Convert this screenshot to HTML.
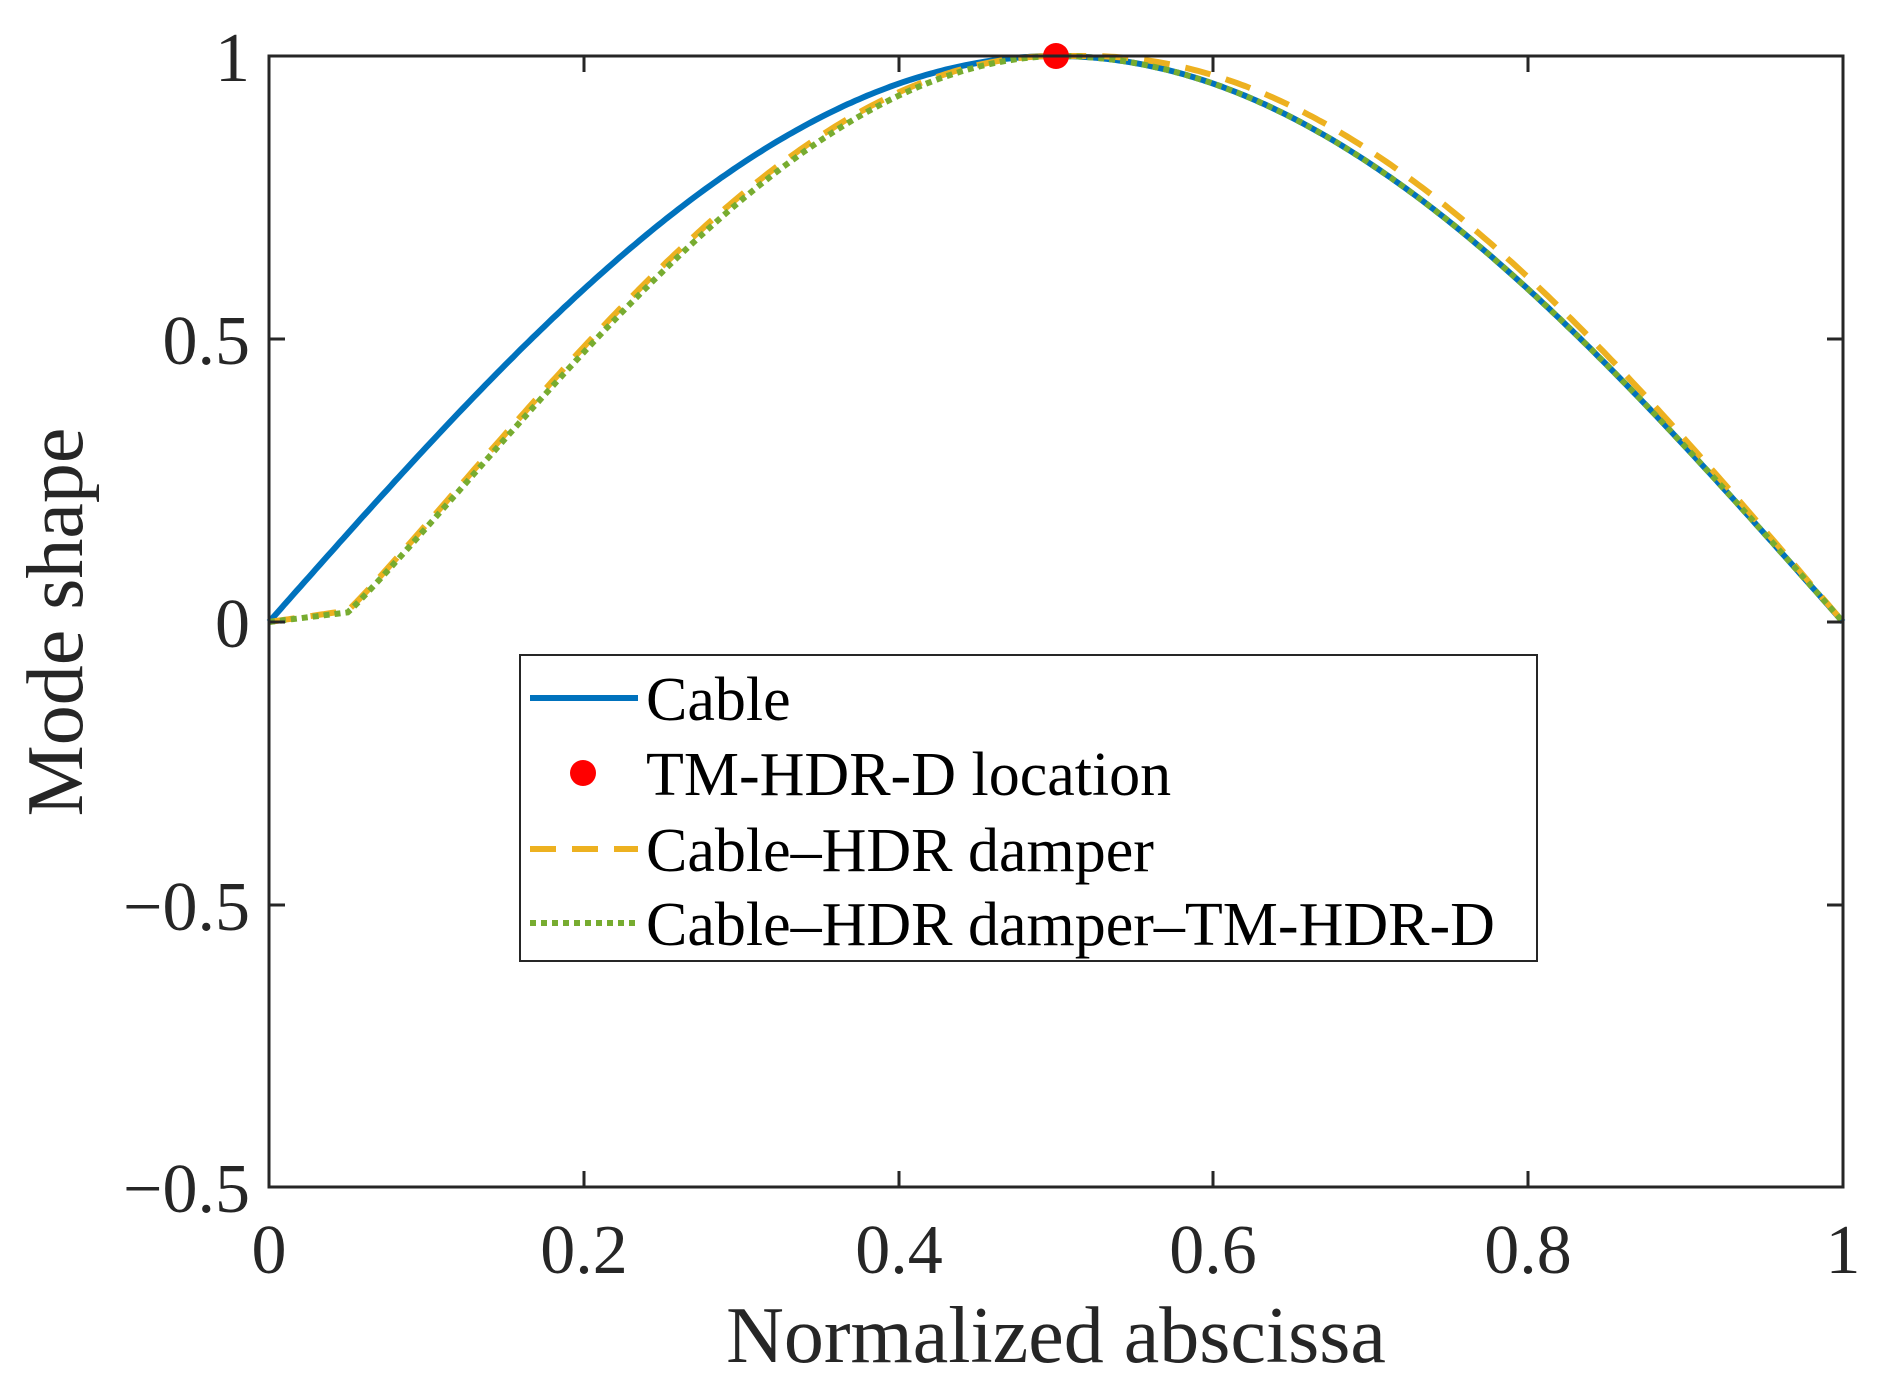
<!DOCTYPE html>
<html><head><meta charset="utf-8"><style>
html,body{margin:0;padding:0;background:#fff;}
svg{display:block;}
text{font-family:"Liberation Serif",serif;fill:#262626;}
</style></head><body>
<svg id="s" width="1881" height="1394" viewBox="0 0 1881 1394" xmlns="http://www.w3.org/2000/svg">
<rect width="1881" height="1394" fill="#fff"/>
<g id="curves"></g>
<circle cx="1056" cy="56" r="13" fill="#ff0000"/>
<rect x="269" y="56" width="1574" height="1131" fill="none" stroke="#262626" stroke-width="3"/>
<g stroke="#262626" stroke-width="3">
<line x1="269" y1="339" x2="285" y2="339"/><line x1="1843" y1="339" x2="1827" y2="339"/>
<line x1="269" y1="622" x2="285" y2="622"/><line x1="1843" y1="622" x2="1827" y2="622"/>
<line x1="269" y1="905" x2="285" y2="905"/><line x1="1843" y1="905" x2="1827" y2="905"/>
<line x1="584" y1="1187" x2="584" y2="1171"/><line x1="584" y1="56" x2="584" y2="72"/>
<line x1="899" y1="1187" x2="899" y2="1171"/><line x1="899" y1="56" x2="899" y2="72"/>
<line x1="1213" y1="1187" x2="1213" y2="1171"/><line x1="1213" y1="56" x2="1213" y2="72"/>
<line x1="1528" y1="1187" x2="1528" y2="1171"/><line x1="1528" y1="56" x2="1528" y2="72"/>
</g>
<g font-size="70" text-anchor="end">
<text x="250" y="81">1</text>
<text x="250" y="364">0.5</text>
<text x="250" y="647">0</text>
<text x="250" y="930">−0.5</text>
<text x="250" y="1212">−0.5</text>
</g>
<g font-size="70" text-anchor="middle">
<text x="269" y="1273">0</text>
<text x="584" y="1273">0.2</text>
<text x="899" y="1273">0.4</text>
<text x="1213" y="1273">0.6</text>
<text x="1528" y="1273">0.8</text>
<text x="1843" y="1273">1</text>
</g>
<text x="1056" y="1362" font-size="80" text-anchor="middle">Normalized abscissa</text>
<text transform="translate(82,622) rotate(-90)" font-size="80" text-anchor="middle">Mode shape</text>
<rect x="520" y="655" width="1017" height="306" fill="#fff" stroke="#262626" stroke-width="2"/>
<line x1="530" y1="698" x2="638" y2="698" stroke="#0072BD" stroke-width="6"/>
<circle cx="583" cy="773" r="13" fill="#ff0000"/>
<line x1="530" y1="849" x2="638" y2="849" stroke="#EDB120" stroke-width="6" stroke-dasharray="26,16"/>
<line x1="530" y1="923" x2="638" y2="923" stroke="#77AC30" stroke-width="6" stroke-dasharray="6,5"/>
<g font-size="62" fill="#000">
<text x="646" y="720" style="fill:#000">Cable</text>
<text x="646" y="795" style="fill:#000">TM-HDR-D location</text>
<text x="646" y="871" style="fill:#000">Cable–HDR damper</text>
<text x="646" y="945" style="fill:#000">Cable–HDR damper–TM-HDR-D</text>
</g>
</svg>
<script>
(function(){
var X=function(x){return 269+1574*x;},Y=function(y){return 622-566*y;};
function path(f){var d='';for(var i=0;i<=400;i++){var x=i/400;d+=(i?'L':'M')+X(x).toFixed(1)+','+Y(f(x)).toFixed(1);}return d;}
function left(x){if(x<=0.05)return 0.02*x/0.05;var t=(x-0.05)/0.45;return 0.02+0.98*Math.sin(Math.PI/2*Math.pow(t,1.05));}
var blue=function(x){return Math.sin(Math.PI*x);};
var orange=function(x){if(x<=0.5)return left(x);if(x<=0.52)return 1;return Math.sin(Math.PI/2*(1-x)/0.48);};
var green=function(x){return x<=0.5?left(x)-0.01*Math.sin(Math.PI*x/0.5):Math.sin(Math.PI*x);};
var g=document.getElementById('curves');var ns='http://www.w3.org/2000/svg';
function add(d,c,da){var p=document.createElementNS(ns,'path');p.setAttribute('d',d);p.setAttribute('fill','none');p.setAttribute('stroke',c);p.setAttribute('stroke-width','6');if(da)p.setAttribute('stroke-dasharray',da);g.appendChild(p);}
add(path(blue),'#0072BD');
add(path(orange),'#EDB120','26,16');
add(path(green),'#77AC30','6,5');
})();
</script>
</body></html>
